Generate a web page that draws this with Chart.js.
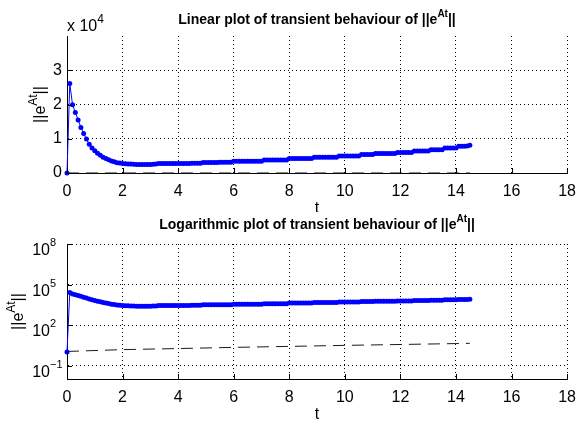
<!DOCTYPE html>
<html>
<head>
<meta charset="utf-8">
<script src="https://cdn.jsdelivr.net/npm/chart.js@4.4.1/dist/chart.umd.min.js"></script>
<style>
  html, body { margin: 0; padding: 0; background: #fff; }
  .panel { position: relative; width: 585px; height: 212px; }
  canvas { display: block; }
</style>
</head>
<body>
<div class="panel"><canvas id="linearPlot" width="585" height="212"></canvas></div>
<div class="panel"><canvas id="logPlot" width="585" height="212"></canvas></div>
<script>
// sample spacing of the norm curve
const tStep = 0.1;

// ||e^At|| sampled every tStep from t = 0 to 14.5
const normValues = [
  1, 26100, 19900, 17700, 15500, 13300, 11500, 9900, 8400, 7300,
  6500, 5800, 5200, 4600, 4200, 3900, 3500, 3300, 3000, 2900,
  2800, 2700, 2650, 2600, 2550, 2500, 2500, 2500, 2500, 2500,
  2500, 2550, 2600, 2750, 2750, 2800, 2800, 2800, 2800, 2800,
  2800, 2800, 2800, 2800, 2800, 2850, 2850, 2850, 2850, 3100,
  3100, 3100, 3100, 3100, 3100, 3150, 3150, 3150, 3150, 3150,
  3450, 3450, 3450, 3450, 3450, 3450, 3450, 3450, 3450, 3450,
  3450, 3800, 3800, 3800, 3800, 3800, 3800, 3800, 3800, 3800,
  4200, 4200, 4200, 4200, 4200, 4200, 4200, 4200, 4200, 4600,
  4600, 4600, 4600, 4600, 4600, 4600, 4600, 4600, 5000, 5000,
  5000, 5000, 5000, 5000, 5000, 5000, 5400, 5400, 5400, 5400,
  5400, 5700, 5700, 5700, 5700, 5700, 5700, 5700, 5700, 6000,
  6000, 6000, 6000, 6000, 6000, 6400, 6400, 6400, 6400, 6400,
  6400, 6800, 6800, 6800, 6800, 6800, 7300, 7300, 7300, 7300,
  7300, 7800, 7800, 7800, 7900, 8100
];

// dashed reference curve
const boundTimes = [0, 2, 4, 6, 8, 10, 12, 14, 14.5];
const boundValues = [1.1, 1.5, 1.8, 2.2, 2.6, 3.1, 3.6, 4.2, 4.4];

// axis ticks
const tTicks = [0, 2, 4, 6, 8, 10, 12, 14, 16, 18];
const linearTicks = [0, 10000, 20000, 30000];
const logExponents = [-1, 2, 5, 8];

const family = '"Liberation Sans", Arial, Helvetica, sans-serif';
Chart.defaults.font.family = family;
Chart.defaults.color = '#000';

const times = normValues.map((_, i) => Math.round(i * tStep * 10) / 10);
const normPoints = times.map((t, i) => ({ x: t, y: normValues[i] }));
const boundPoints = boundTimes.map((t, i) => ({ x: t, y: boundValues[i] }));

// text with superscript pieces: parts = [[text, isSup], ...]
function drawRich(ctx, parts, x, y, size, weight, align) {
  const supSize = Math.round(size * 0.72);
  const widths = parts.map(([s, sup]) => {
    ctx.font = `${weight} ${sup ? supSize : size}px ${family}`;
    return ctx.measureText(s).width;
  });
  const total = widths.reduce((a, b) => a + b, 0);
  let cx = align === 'center' ? x - total / 2 : align === 'right' ? x - total : x;
  ctx.textAlign = 'left';
  ctx.textBaseline = 'alphabetic';
  parts.forEach(([s, sup], i) => {
    ctx.font = `${weight} ${sup ? supSize : size}px ${family}`;
    ctx.fillText(s, cx, sup ? y - size * 0.5 : y);
    cx += widths[i];
  });
}

const ylabelParts = [['||e', false], ['At', true], ['||', false]];

function decor(cfg) {
  return {
    id: 'decor',
    afterDraw(chart) {
      const { ctx, chartArea: a, scales } = chart;
      ctx.save();
      // inward tick marks
      ctx.strokeStyle = '#000';
      ctx.lineWidth = 1;
      ctx.beginPath();
      scales.x.ticks.forEach(tk => {
        const px = Math.round(scales.x.getPixelForValue(tk.value)) + 0.5;
        ctx.moveTo(px, a.bottom);
        ctx.lineTo(px, a.bottom - 5);
      });
      scales.y.ticks.forEach(tk => {
        const py = Math.round(scales.y.getPixelForValue(tk.value)) + 0.5;
        ctx.moveTo(a.left, py);
        ctx.lineTo(a.left + 5, py);
      });
      ctx.stroke();

      ctx.fillStyle = '#000';
      const cx = (a.left + a.right) / 2;
      drawRich(ctx, cfg.title, cx, cfg.titleY, 14, 'bold', 'center');
      drawRich(ctx, [['t', false]], cx, a.bottom + cfg.xlabelDy, 16, 'normal', 'center');
      if (cfg.extra) cfg.extra(chart);

      ctx.translate(cfg.ylabelX, (a.top + a.bottom) / 2);
      ctx.rotate(-Math.PI / 2);
      drawRich(ctx, ylabelParts, 0, 0, 16, 'normal', 'center');
      ctx.restore();
    }
  };
}

function axisX(tickPad) {
  return {
    type: 'linear',
    min: 0,
    max: 18,
    afterBuildTicks: s => { s.ticks = tTicks.map(v => ({ value: v })); },
    afterFit: s => { s.height = s.chart.height - s.chart.options.axisBottom; },
    grid: { color: '#000', drawTicks: false, lineWidth: 1 },
    border: { display: true, color: '#000', width: 1, dash: [1, 3] },
    ticks: { font: { size: 16 }, padding: tickPad, maxRotation: 0 }
  };
}

function datasets() {
  return [
    {
      data: normPoints,
      borderColor: '#0000ff',
      backgroundColor: '#0000ff',
      borderWidth: 1,
      pointRadius: 2.5,
      pointBorderWidth: 0,
      pointBackgroundColor: '#0000ff',
      clip: false
    },
    {
      data: boundPoints,
      borderColor: '#1a1a1a',
      borderWidth: 1,
      borderDash: [12, 7],
      pointRadius: 0,
      clip: false
    }
  ];
}

const common = {
  responsive: false,
  animation: false,
  events: [],
  plugins: { legend: { display: false }, tooltip: { enabled: false } }
};

new Chart(document.getElementById('linearPlot'), {
  type: 'line',
  data: { datasets: datasets() },
  plugins: [decor({
    title: [['Linear plot of transient behaviour of ||e', false], ['At', true], ['||', false]],
    titleY: 24,
    xlabelDy: 40,
    ylabelX: 45,
    extra(chart) {
      const a = chart.chartArea;
      drawRich(chart.ctx, [['x 10', false], ['4', true]], a.left, 31, 16, 'normal', 'left');
    }
  })],
  options: {
    ...common,
    axisBottom: 173,
    layout: { padding: { top: 36, right: 12, left: 0, bottom: 0 } },
    scales: {
      x: axisX(9),
      y: {
        type: 'linear',
        min: 0,
        max: 40000,
        afterBuildTicks: s => { s.ticks = linearTicks.map(v => ({ value: v })); },
        afterFit: s => { s.width = 67; },
        grid: { color: '#000', drawTicks: false, lineWidth: 1 },
        border: { display: true, color: '#000', width: 1, dash: [1, 3] },
        ticks: { font: { size: 16 }, padding: 5, callback: v => String(v / 10000) }
      }
    }
  }
});

new Chart(document.getElementById('logPlot'), {
  type: 'line',
  data: { datasets: datasets() },
  plugins: [decor({
    title: [['Logarithmic plot of transient behaviour of ||e', false], ['At', true], ['||', false]],
    titleY: 17,
    xlabelDy: 40,
    ylabelX: 23,
    extra(chart) {
      const { ctx, scales } = chart;
      logExponents.forEach(e => {
        const py = scales.y.getPixelForValue(Math.pow(10, e));
        ctx.font = `normal 16px ${family}`;
        ctx.textAlign = 'right';
        ctx.textBaseline = 'alphabetic';
        ctx.fillText('10', 50, py + 11);
        ctx.font = `normal 11px ${family}`;
        ctx.textAlign = 'left';
        ctx.fillText(e < 0 ? '\u2212' + Math.abs(e) : String(e), 50, py + 2);
      });
    }
  })],
  options: {
    ...common,
    axisBottom: 167,
    layout: { padding: { top: 32, right: 12, left: 0, bottom: 0 } },
    scales: {
      x: axisX(9),
      y: {
        type: 'logarithmic',
        min: 0.01,
        max: 1e8,
        afterBuildTicks: s => { s.ticks = logExponents.map(e => ({ value: Math.pow(10, e) })); },
        afterFit: s => { s.width = 67; },
        grid: { color: '#000', drawTicks: false, lineWidth: 1 },
        border: { display: true, color: '#000', width: 1, dash: [1, 3] },
        ticks: { display: false }
      }
    }
  }
});
</script>
</body>
</html>
